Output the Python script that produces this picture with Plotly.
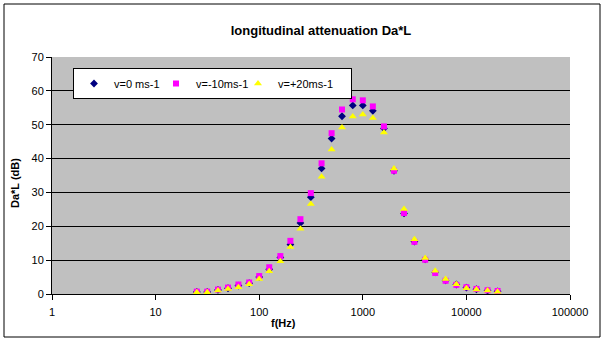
import plotly.graph_objects as go

freq = [25, 31.5, 40, 50, 63, 80, 100, 125, 160, 200, 250, 315, 400, 500, 630, 800,
        1000, 1250, 1600, 2000, 2500, 3150, 4000, 5000, 6300, 8000, 10000, 12500, 16000, 20000]
v0 = [0.6, 0.6, 1.2, 1.7, 2.5, 3.2, 5.0, 7.3, 10.8, 14.6, 21.0, 28.6, 37.1, 45.9, 52.5, 55.7,
      55.7, 54.1, 48.9, 36.4, 23.8, 15.5, 10.2, 6.4, 4.0, 2.8, 1.9, 1.4, 1.0, 0.8]
v_m10 = [0.7, 0.7, 1.3, 1.9, 2.8, 3.4, 5.3, 7.9, 11.2, 15.7, 22.1, 29.8, 38.6, 47.5, 54.5, 57.5,
         57.2, 55.4, 49.5, 36.4, 23.9, 15.4, 10.1, 6.2, 3.9, 2.7, 2.0, 1.5, 1.1, 0.9]
v_p20 = [0.5, 0.5, 1.0, 1.5, 2.0, 2.9, 4.4, 6.7, 9.7, 13.9, 19.3, 26.6, 34.6, 42.7, 49.2, 52.4,
         53.0, 52.0, 47.7, 37.1, 25.1, 16.2, 10.6, 6.9, 4.4, 2.9, 1.7, 1.3, 1.0, 0.7]

xtick_vals = [1, 10, 100, 1000, 10000, 100000]
xtick_text = ["1", "10", "100", "1000", "10000", "100000"]

FONT = "Liberation Sans, Arial, sans-serif"

fig = go.Figure()
fig.add_trace(go.Scatter(x=freq, y=v0, mode="markers", name="v=0 ms-1", legendwidth=37,
                         marker=dict(symbol="diamond", size=6, color="#000080")))
fig.add_trace(go.Scatter(x=freq, y=v_m10, mode="markers", name="v=-10ms-1", legendwidth=37,
                         marker=dict(symbol="square", size=6, color="#FF00FF")))
fig.add_trace(go.Scatter(x=freq, y=v_p20, mode="markers", name="v=+20ms-1", legendwidth=68,
                         marker=dict(symbol="triangle-up", size=7, color="#FFFF00")))

L, R, T, B = 52, 570, 57, 294
W, H = 605, 341
pw, ph = R - L, B - T

def px2x(p):
    return (p - L) / pw

def px2y(p):
    return (B - p) / ph

fig.update_layout(
    width=W, height=H,
    margin=dict(l=L, r=W - R, t=T, b=H - B),
    paper_bgcolor="white",
    plot_bgcolor="#C0C0C0",
    font=dict(family=FONT, size=11, color="black"),
    title=dict(text="<b>longitudinal attenuation Da*L</b>", x=px2x(321), xref="paper",
               xanchor="center", y=1 - 30 / H, yanchor="middle",
               font=dict(family=FONT, size=13, color="black")),
    showlegend=True,
    legend=dict(orientation="h", x=px2x(73), y=px2y(68), xanchor="left", yanchor="top",
                bgcolor="white", bordercolor="black", borderwidth=1,
                font=dict(family=FONT, size=11, color="black"),
                itemwidth=30, tracegroupgap=0),
    xaxis=dict(type="log", range=[0, 5], tickvals=xtick_vals, ticktext=xtick_text,
               showgrid=False, zeroline=False, showline=True, linecolor="black",
               linewidth=1, ticks="outside", ticklen=5, tickcolor="black",
               ticklabelstandoff=3,
               tickfont=dict(family=FONT, size=11)),
    yaxis=dict(range=[0, 70], dtick=10, showgrid=True, gridcolor="black", gridwidth=1,
               zeroline=False, showline=True, linecolor="black", linewidth=1,
               ticks="outside", ticklen=5, tickcolor="black",
               tickfont=dict(family=FONT, size=11)),
    shapes=[dict(type="rect", xref="paper", yref="paper",
                 x0=px2x(4), x1=px2x(600), y0=px2y(337), y1=px2y(4),
                 line=dict(color="black", width=1), fillcolor="rgba(0,0,0,0)",
                 layer="below")],
    annotations=[
        dict(text="<b>f(Hz)</b>", xref="paper", yref="paper", x=px2x(283), y=px2y(323),
             showarrow=False, xanchor="center", yanchor="middle",
             font=dict(family=FONT, size=11)),
        dict(text="<b>Da*L (dB)</b>", xref="paper", yref="paper", x=px2x(15), y=px2y(183),
             showarrow=False, xanchor="center", yanchor="middle", textangle=-90,
             font=dict(family=FONT, size=11)),
    ],
)

fig.write_html("out.html")
